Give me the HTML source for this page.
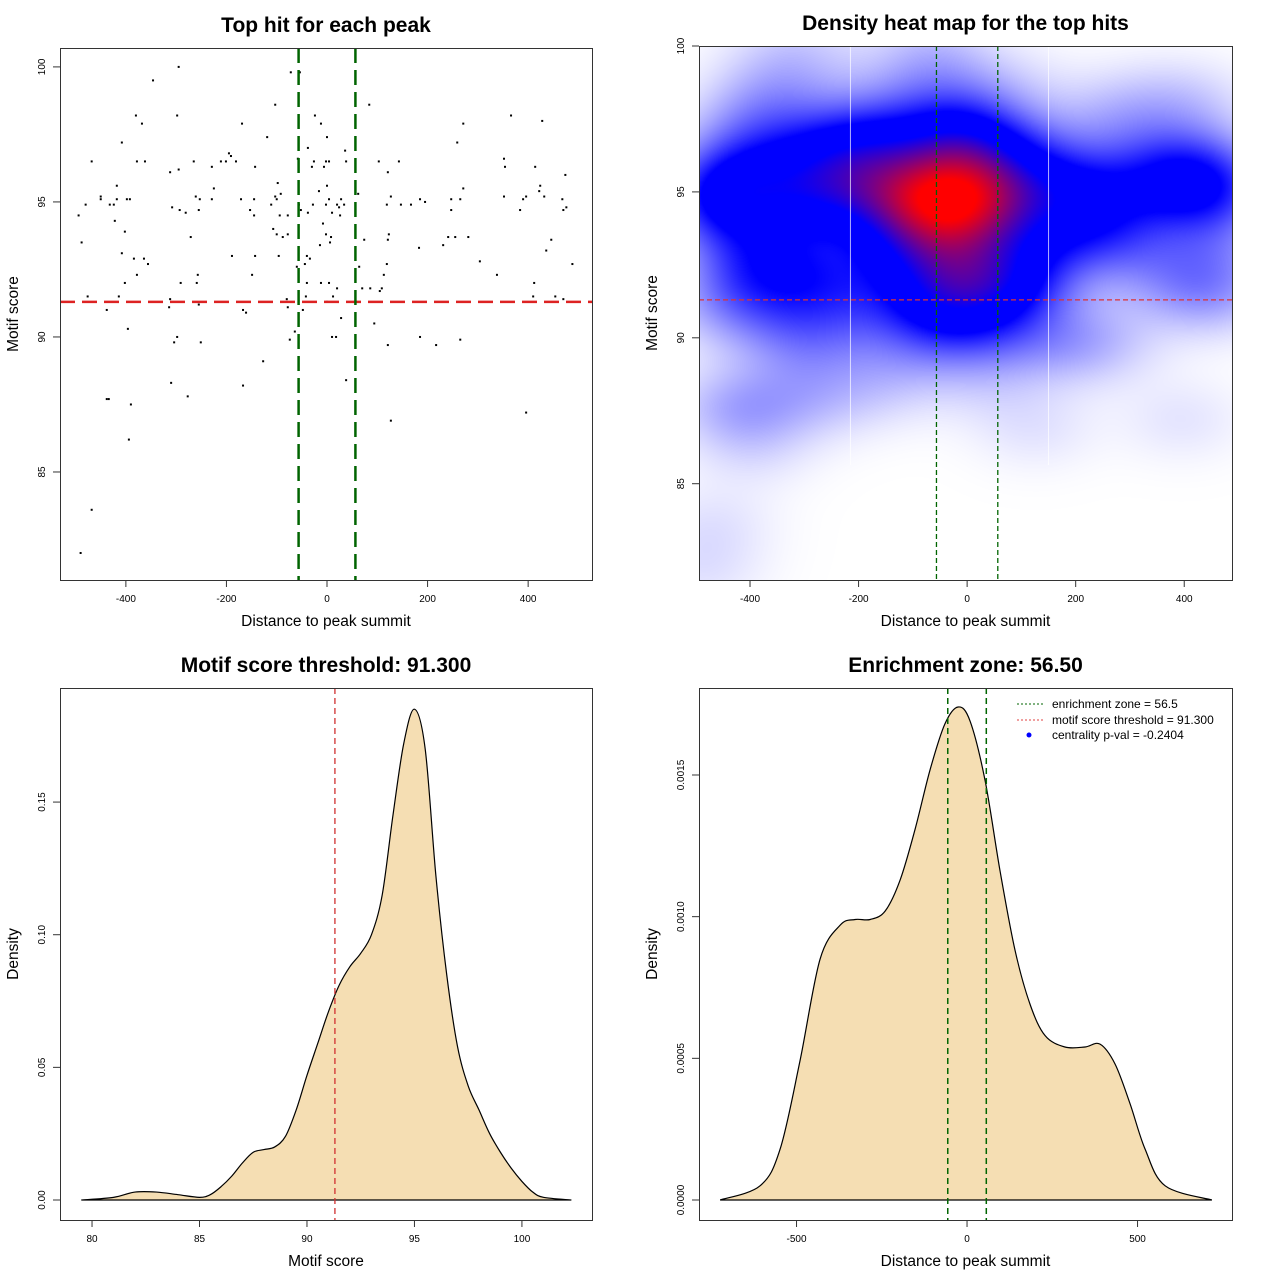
<!DOCTYPE html>
<html><head><meta charset="utf-8">
<style>
html,body{margin:0;padding:0;background:#fff;}
svg text{font-family:"Liberation Sans",sans-serif;fill:#000;}
#wrap{position:relative;width:1280px;height:1280px;}
#heat{position:absolute;left:699px;top:46px;}
</style></head>
<body>
<div id="wrap">
<canvas id="heat" width="533" height="534"></canvas>
<svg id="svg" width="1280" height="1280" style="position:absolute;left:0;top:0" xmlns="http://www.w3.org/2000/svg"></svg>
</div>
<script>
// ---- data ----
const peakDist = [-295,-346,-380,-368,-298,-169,-103,-72,-54,-408,-119,-24,-12,0,-38,-468,-378,-362,-265,-211,-201,-181,-195,-191,-295,-312,-229,-143,-58,-26,-30,-6,-2,4,-418,-450,-450,-418,-398,-392,-480,-432,-424,-494,-422,-261,-253,-229,-225,-171,-145,-308,-293,-281,-255,-153,-145,-98,-103,-92,-100,-111,-94,-78,-56,-52,-38,-28,-16,-2,0,4,-488,-402,-271,-107,-100,-88,-78,-8,-2,-14,-408,-384,-364,-356,-378,-189,-143,-96,-40,-34,-44,-60,-149,-402,-291,-259,-257,-40,-12,4,-476,-414,-42,-438,-312,-314,-255,-167,-161,-80,-78,-48,0,-396,-298,-304,-251,-64,-74,-127,-310,-167,-438,-434,-390,-277,-394,-468,-490,
84,271,366,428,259,36,38,103,143,121,352,354,414,474,62,127,119,147,167,185,195,28,20,34,24,10,26,247,265,247,271,352,390,396,384,422,424,432,468,470,476,8,6,74,123,121,183,231,241,255,281,446,436,64,119,304,488,113,338,412,20,12,70,86,109,105,410,454,470,28,94,10,18,121,185,217,265,38,396,127];
const motifScore = [100.0,99.5,98.2,97.9,98.2,97.9,98.6,99.8,99.8,97.2,97.4,98.2,97.9,97.4,97.0,96.5,96.5,96.5,96.5,96.5,96.5,96.5,96.8,96.7,96.2,96.1,96.3,96.3,96.6,96.5,96.3,96.3,96.5,96.5,95.6,95.2,95.1,95.1,95.1,95.1,94.9,94.9,94.9,94.5,94.3,95.2,95.1,95.1,95.5,95.1,95.1,94.8,94.7,94.6,94.7,94.7,94.5,95.7,95.2,95.3,95.1,94.9,94.5,94.5,94.9,94.7,94.6,94.9,95.4,94.9,95.6,95.1,93.5,93.9,93.7,94.0,93.8,93.7,93.8,94.2,93.8,93.4,93.1,92.9,92.9,92.7,92.3,93.0,93.0,93.0,93.0,92.9,92.7,92.6,92.3,92.0,92.0,92.0,92.3,92.0,92.0,92.0,91.5,91.5,91.5,91.0,91.4,91.1,91.2,91.0,90.9,91.4,91.1,91.0,91.3,90.3,90.0,89.8,89.8,90.2,89.9,89.1,88.3,88.2,87.7,87.7,87.5,87.8,86.2,83.6,82.0,
98.6,97.9,98.2,98.0,97.2,96.9,96.5,96.5,96.5,96.1,96.6,96.3,96.3,96.0,95.3,95.2,94.9,94.9,94.9,95.1,95.0,95.1,94.9,94.9,94.8,94.6,94.5,95.1,95.1,94.7,95.5,95.2,95.1,95.2,94.7,95.4,95.6,95.2,95.1,94.7,94.8,93.7,93.5,93.6,93.8,93.6,93.3,93.4,93.7,93.7,93.7,93.6,93.2,92.6,92.7,92.8,92.7,92.3,92.3,92.0,91.8,91.5,91.8,91.8,91.8,91.7,91.5,91.5,91.4,90.7,90.5,90.0,90.0,89.7,90.0,89.7,89.9,88.4,87.2,86.9];
const scoreThreshold = 91.3;
const enrichZone = 56.5;
// motif score density curve
const scoreGrid = [79.5,81,82,83,84,85,85.5,86,86.5,87,87.5,88,88.5,89,89.5,90,90.5,91,91.5,92,92.5,93,93.5,94,94.5,95,95.5,96,96.5,97,97.5,98,98.5,99,99.5,100,100.5,101,102.3];
const scoreDens = [0,0.001,0.003,0.003,0.002,0.001,0.002,0.005,0.009,0.014,0.018,0.019,0.020,0.024,0.034,0.047,0.059,0.071,0.081,0.088,0.093,0.100,0.115,0.145,0.172,0.185,0.170,0.122,0.085,0.058,0.043,0.034,0.025,0.018,0.012,0.007,0.003,0.001,0];
// distance density curve
const distGrid = [-724,-607,-548,-490,-431,-372,-328,-284,-240,-196,-152,-108,-65,-26,9,53,97,141,185,229,287,346,390,434,478,522,581,718];
const distDens = [0,0.00005,0.00018,0.00049,0.00085,0.00097,0.00099,0.00099,0.00102,0.00113,0.00131,0.00152,0.00168,0.00174,0.00169,0.00148,0.00116,0.00088,0.00069,0.00058,0.00054,0.00054,0.00055,0.00048,0.00034,0.00018,0.00005,0];
const tlTicksX = [-400,-200,0,200,400], tlTicksY = [85,90,95,100];
const blTicksX = [80,85,90,95,100], blTicksY = [0,0.05,0.10,0.15], blTickLabY = ["0.00","0.05","0.10","0.15"];
const brTicksX = [-500,0,500], brTicksY = [0,0.0005,0.0010,0.0015], brTickLabY = ["0.0000","0.0005","0.0010","0.0015"];

const NS="http://www.w3.org/2000/svg";
const svg=document.getElementById('svg');
function mk(tag,attrs,parent,name,inter){const e=document.createElementNS(NS,tag);for(const k in attrs)e.setAttribute(k,attrs[k]);


(parent||svg).appendChild(e);return e;}
function scale(d0,d1,p0,p1){return v=>p0+(v-d0)/(d1-d0)*(p1-p0);}

function panel(o){
  const g=mk('g',{},svg,o.name,false);
  const X=scale(o.xd[0],o.xd[1],o.box[0],o.box[2]);
  const Y=scale(o.yd[0],o.yd[1],o.box[3],o.box[1]);
  return {g,X,Y};
}
function axes(p,o){
  const g=p.g,[x0,y0,x1,y1]=o.box;
  mk('rect',{x:x0+.5,y:y0+.5,width:x1-x0,height:y1-y0,fill:'none',stroke:'#333','stroke-width':1},g,'plot-frame',false);
  o.tx.forEach((v,i)=>{const x=p.X(v);
    mk('line',{x1:x,x2:x,y1:y1,y2:y1+7,stroke:'#333'},g,'x-tick',false);
    const t=mk('text',{x:x,y:y1+22,'font-size':10,'text-anchor':'middle'},g,'x-tick-label',false);t.textContent=o.txl?o.txl[i]:v;});
  o.ty.forEach((v,i)=>{const y=p.Y(v);
    mk('line',{x1:x0-7,x2:x0,y1:y,y2:y,stroke:'#333'},g,'y-tick',false);
    const t=mk('text',{x:0,y:0,'font-size':10,'text-anchor':'middle',transform:`translate(${x0-15},${y}) rotate(-90)`},g,'y-tick-label',false);t.textContent=o.tyl?o.tyl[i]:v;});
  const cx=(x0+x1)/2;
  let t=mk('text',{x:cx,y:32,'font-size':21,'font-weight':'bold','text-anchor':'middle'},g,'chart-title',false);t.setAttribute('y',y0-16);t.textContent=o.title;
  t=mk('text',{x:cx,y:y1+46,'font-size':15.5,'text-anchor':'middle'},g,'x-axis-title',false);t.textContent=o.xl;
  t=mk('text',{x:0,y:0,'font-size':15.5,'text-anchor':'middle',transform:`translate(${x0-42},${(y0+y1)/2}) rotate(-90)`},g,'y-axis-title',false);t.textContent=o.yl;
}
function vline(p,v,o,col,w,dash,name){mk('line',{x1:p.X(v),x2:p.X(v),y1:o.box[1],y2:o.box[3],stroke:col,'stroke-width':w,'stroke-dasharray':dash},p.g,name,false);}
function hline(p,v,o,col,w,dash,name){mk('line',{x1:o.box[0],x2:o.box[2],y1:p.Y(v),y2:p.Y(v),stroke:col,'stroke-width':w,'stroke-dasharray':dash},p.g,name,false);}

// ---- top-left scatter ----
const o1={box:[60,48,592,580],xd:[-531,527],yd:[81.0,100.7],tx:tlTicksX,ty:tlTicksY,title:'Top hit for each peak',xl:'Distance to peak summit',yl:'Motif score',name:'scatter-panel'};
const p1=panel(o1);
peakDist.forEach((d,i)=>{mk('rect',{x:p1.X(d)-1,y:p1.Y(motifScore[i])-1,width:2,height:2,fill:'#000'},p1.g,'peak-point',false);});
hline(p1,scoreThreshold,o1,'#dd2222',2.5,'15,7','threshold-line');
vline(p1,-enrichZone,o1,'#006400',2.5,'15,7','enrichment-left-line');
vline(p1,enrichZone,o1,'#006400',2.5,'15,7','enrichment-right-line');
axes(p1,o1);

// ---- top-right heatmap ----
const o2={box:[699,46,1232,580],xd:[-494,488],yd:[81.7,100],tx:tlTicksX,ty:tlTicksY,title:'Density heat map for the top hits',xl:'Distance to peak summit',yl:'Motif score',name:'heatmap-panel'};
const p2=panel(o2);
(function(){
  const c=document.getElementById('heat'),ctx=c.getContext('2d'),W=533,H=534;
  const img=ctx.createImageData(W,H);const hx=80,hy=1.0;
  const dens=new Float32Array(W*H);let mx=0;
  const xs=[],ys=[];for(let i=0;i<W;i++)xs.push(o2.xd[0]+(i+.5)/W*(o2.xd[1]-o2.xd[0]));
  for(let j=0;j<H;j++)ys.push(o2.yd[1]-(j+.5)/H*(o2.yd[1]-o2.yd[0]));
  const ex=new Float32Array(W),ey=new Float32Array(H);
  for(let k=0;k<peakDist.length;k++){
    for(let i=0;i<W;i++){const u=(xs[i]-peakDist[k])/hx;ex[i]=Math.exp(-.5*u*u);}
    for(let j=0;j<H;j++){const u=(ys[j]-motifScore[k])/hy;ey[j]=Math.exp(-.5*u*u);}
    for(let j=0;j<H;j++){const e=ey[j];if(e<1e-6)continue;for(let i=0;i<W;i++)dens[j*W+i]+=e*ex[i];}
  }
  for(const v of dens)if(v>mx)mx=v;
  for(let n=0;n<W*H;n++){let t=Math.pow(dens[n]/mx,0.85);let r,g,b;
    if(t<0.42){const s=Math.pow(t/0.42,1.2);r=255*(1-s);g=255*(1-s);b=255;}
    else if(t<0.58){r=0;g=0;b=255;}
    else{const s=Math.min(1,(t-0.58)/0.36);r=255*s;g=0;b=255*(1-s);}
    img.data[n*4]=r;img.data[n*4+1]=g;img.data[n*4+2]=b;img.data[n*4+3]=255;}
  ctx.putImageData(img,0,0);
})();
mk('line',{x1:p2.X(-215),x2:p2.X(-215),y1:46,y2:465,stroke:'#fff','stroke-opacity':0.7},p2.g,'grid-artifact-line',false);
mk('line',{x1:p2.X(150),x2:p2.X(150),y1:46,y2:465,stroke:'#fff','stroke-opacity':0.7},p2.g,'grid-artifact-line',false);
hline(p2,scoreThreshold,o2,'#dd3333',1.3,'5,3','threshold-line');
vline(p2,-enrichZone,o2,'#006400',1.3,'5,3','enrichment-left-line');
vline(p2,enrichZone,o2,'#006400',1.3,'5,3','enrichment-right-line');
axes(p2,o2);

// smooth path helper
function smoothPath(pts){let d=`M${pts[0][0]},${pts[0][1]}`;
  for(let i=0;i<pts.length-1;i++){const p0=pts[Math.max(0,i-1)],p1=pts[i],p2=pts[i+1],p3=pts[Math.min(pts.length-1,i+2)];
    const c1=[p1[0]+(p2[0]-p0[0])/6,p1[1]+(p2[1]-p0[1])/6],c2=[p2[0]-(p3[0]-p1[0])/6,p2[1]-(p3[1]-p1[1])/6];
    d+=` C${c1[0]},${c1[1]} ${c2[0]},${c2[1]} ${p2[0]},${p2[1]}`;}
  return d;}

// ---- bottom-left ----
const o3={box:[60,688,592,1220],xd:[78.51,103.26],yd:[-0.00754,0.193],tx:blTicksX,ty:blTicksY,tyl:blTickLabY,title:'Motif score threshold: 91.300',xl:'Motif score',yl:'Density',name:'score-density-panel'};
const p3=panel(o3);
{const pts=scoreGrid.map((v,i)=>[p3.X(v),p3.Y(scoreDens[i])]);const d=smoothPath(pts);
 mk('path',{d:d+` L${pts[pts.length-1][0]},${p3.Y(0)} L${pts[0][0]},${p3.Y(0)} Z`,fill:'#f5deb3',stroke:'#000','stroke-width':1.2},p3.g,'score-density-curve',false);}
vline(p3,scoreThreshold,o3,'#d03030',1.3,'6,4','threshold-line');
axes(p3,o3);

// ---- bottom-right ----
const o4={box:[699,688,1232,1220],xd:[-786,777],yd:[-0.0000706,0.001807],tx:brTicksX,ty:brTicksY,tyl:brTickLabY,title:'Enrichment zone: 56.50',xl:'Distance to peak summit',yl:'Density',name:'distance-density-panel'};
const p4=panel(o4);
{const pts=distGrid.map((v,i)=>[p4.X(v),p4.Y(distDens[i])]);const d=smoothPath(pts);
 mk('path',{d:d+` L${pts[pts.length-1][0]},${p4.Y(0)} L${pts[0][0]},${p4.Y(0)} Z`,fill:'#f5deb3',stroke:'#000','stroke-width':1.2},p4.g,'distance-density-curve',false);}
vline(p4,-enrichZone,o4,'#006400',1.5,'6,4','enrichment-left-line');
vline(p4,enrichZone,o4,'#006400',1.5,'6,4','enrichment-right-line');
axes(p4,o4);
// legend
const lg=mk('g',{},p4.g,'legend',false);
mk('line',{x1:1017,x2:1043,y1:704,y2:704,stroke:'#006400','stroke-dasharray':'2,2'},lg,'legend-enrichment-swatch',false);
mk('line',{x1:1017,x2:1043,y1:720,y2:720,stroke:'#e04040','stroke-dasharray':'2,2'},lg,'legend-threshold-swatch',false);
mk('circle',{cx:1029,cy:735,r:2.5,fill:'#0000ff'},lg,'legend-centrality-swatch',false);
[['enrichment zone = 56.5',708],['motif score threshold = 91.300',724],['centrality p-val = -0.2404',739]].forEach(a=>{
  const t=mk('text',{x:1052,y:a[1],'font-size':12},lg,'legend-entry',false);t.textContent=a[0];});
</script>
</body></html>
